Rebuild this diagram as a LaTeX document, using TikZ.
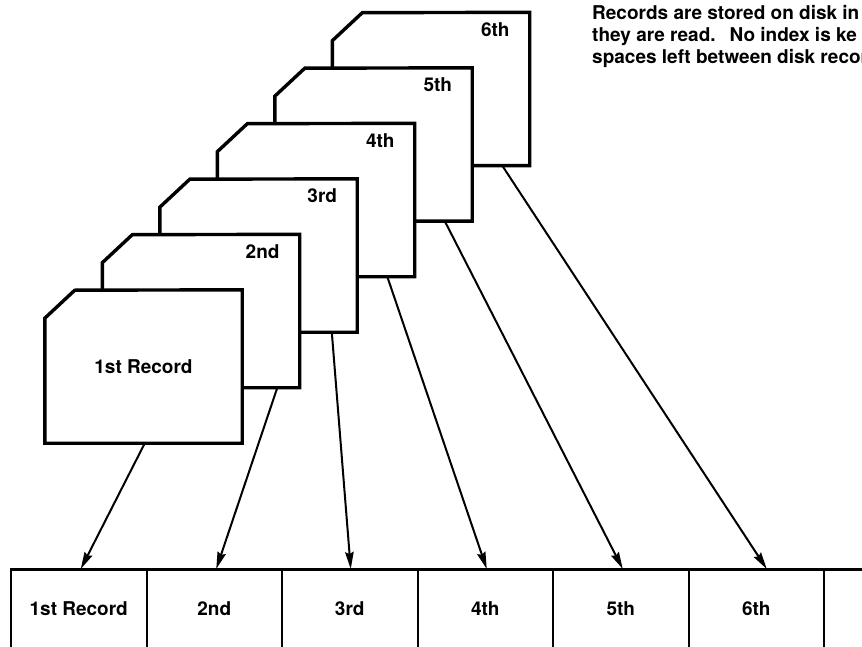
\documentclass[tikz,border=0pt]{standalone}
\usepackage{fontspec}
\setmainfont{TeX Gyre Heros}
\usetikzlibrary{arrows.meta,calc}

\begin{document}
\begin{tikzpicture}[x=1pt,y=-1pt,
  lbl/.style={font=\bfseries\fontsize{19}{22}\selectfont, inner sep=0pt},
  card/.style={minimum width=197pt, minimum height=153pt, inner sep=0pt, draw=none},
  cardedge/.style={line width=3.4pt, fill=white, line join=miter},
  link/.style={line width=2pt, -{Stealth[length=17pt,width=8.5pt,inset=2pt]}},
  cell/.style={draw, line width=2pt, minimum width=135.5pt, inner sep=0pt,
    text height=45pt, text depth=100pt, anchor=north west,
    font=\bfseries\fontsize{19}{22}\selectfont}
]
\useasboundingbox (0,0) rectangle (862,647);
\clip (0,0) rectangle (862,647);

% stack of disk records, back to front
\foreach \k/\t in {6/6th,5/5th,4/4th,3/3rd,2/2nd,1/{}} {
  \node[card] (c\k) at ({143.5+57.5*(\k-1)}, {366.5-55.5*(\k-1)}) {};
  \filldraw[cardedge] (c\k.south west) -- ++(0,-125) -- ++(30,-28)
    -- (c\k.north east) -- (c\k.south east) -- cycle;
  \node[lbl, anchor=east] (c\k t) at ($(c\k.north east)+(-20,17)$) {\t};
}
\node[lbl] (c1main) at (c1) {1st Record};

% explanatory note
\node[lbl, align=left, anchor=north west] (note) at (592,5)
  {Records are stored on disk in\\
   they are read.\hspace{14pt}No index is ke\\
   spaces left between disk recor};

% sequential file on disk
\foreach \i/\t in {1/1st Record,2/2nd,3/3rd,4/4th,5/5th,6/6th,7/{}}
  \node[cell] (r\i) at ({10+135.5*(\i-1)}, 569) {\t};
\draw[line width=3pt] (r1.north west) -- (r7.north east);

% each record goes to the next free place
\draw[link] ($(c1.south west)+(100,0)$) -- ($(r1.north)+(2,0)$);
\draw[link] ($(c2.south west)+(175,0)$) -- ($(r2.north)+(2,0)$);
\draw[link] ($(c3.south west)+(172,0)$) -- ($(r3.north)+(1,0)$);
\draw[link] ($(c4.south west)+(170,0)$) -- ($(r4.north)+(1.5,0)$);
\draw[link] ($(c5.south west)+(170,0)$) -- ($(r5.north)+(2,0)$);
\draw[link] ($(c6.south west)+(170,0)$) -- ($(r6.north)+(10.5,0)$);
\end{tikzpicture}
\end{document}
